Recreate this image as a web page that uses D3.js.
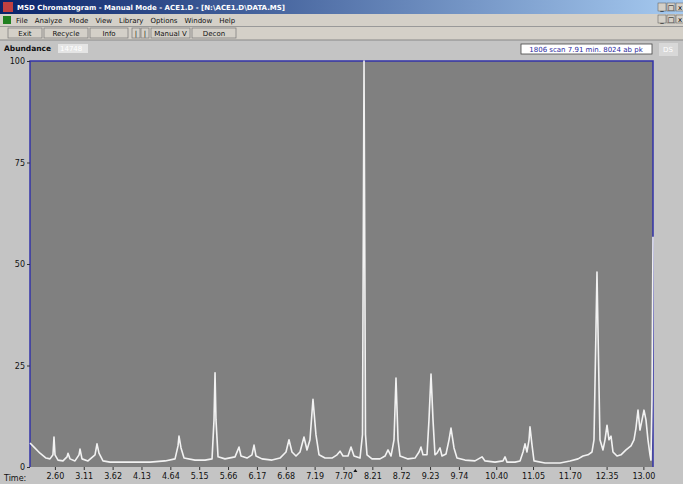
<!DOCTYPE html>
<head>
<meta charset="utf-8">
<style>
  body { margin:0; background:#c4c4c4; }
  text { font-family:"DejaVu Sans", sans-serif; }
  .axis text { font-size:8px; fill:#111; }
  .axis path { display:none; }
  .axis line { stroke:#333; }
  .trace { fill:none; stroke:#f2f2f2; stroke-width:1.6; stroke-linejoin:round; }
</style>
</head>
<body>
<script src="https://cdn.jsdelivr.net/npm/d3@7"></script>
<script>

var width = 683,
    height = 484;

// retention time (min) and abundance (%)
var times = [2.160, 2.231, 2.337, 2.443, 2.513, 2.566, 2.584, 2.602, 2.655, 2.743,
  2.814, 2.832, 2.867, 2.955, 3.026, 3.044, 3.079, 3.185, 3.309, 3.344,
  3.379, 3.450, 3.574, 3.927, 4.281, 4.546, 4.723, 4.776, 4.793, 4.829,
  4.882, 5.076, 5.253, 5.377, 5.412, 5.430, 5.447, 5.483, 5.606, 5.783,
  5.854, 5.889, 5.995, 6.083, 6.119, 6.154, 6.260, 6.437, 6.578, 6.684,
  6.737, 6.790, 6.861, 6.932, 7.002, 7.055, 7.108, 7.161, 7.214, 7.268,
  7.374, 7.497, 7.586, 7.639, 7.692, 7.780, 7.833, 7.886, 7.992, 8.036,
  8.063, 8.089, 8.116, 8.204, 8.346, 8.434, 8.487, 8.540, 8.593, 8.628,
  8.664, 8.699, 8.840, 8.964, 9.035, 9.070, 9.105, 9.176, 9.211, 9.247,
  9.282, 9.317, 9.353, 9.406, 9.441, 9.512, 9.565, 9.600, 9.653, 9.706,
  9.848, 10.024, 10.148, 10.201, 10.378, 10.519, 10.555, 10.590, 10.731, 10.820,
  10.873, 10.908, 10.943, 10.979, 10.996, 11.032, 11.067, 11.262, 11.527, 11.703,
  11.845, 11.933, 12.021, 12.092, 12.127, 12.162, 12.180, 12.198, 12.233, 12.286,
  12.322, 12.357, 12.392, 12.428, 12.463, 12.534, 12.604, 12.693, 12.781, 12.834,
  12.869, 12.905, 12.940, 12.976, 13.011, 13.046, 13.081, 13.117, 13.134, 13.152,
  13.170];

var abundance = [5.9, 4.9, 3.4, 2.2, 2.0, 3.0, 7.4, 3.0, 1.7, 1.5,
  2.5, 3.4, 2.0, 1.5, 3.0, 4.4, 2.0, 1.5, 3.0, 5.7,
  3.4, 1.5, 1.2, 1.2, 1.2, 1.5, 2.0, 5.2, 7.6, 4.7,
  2.2, 1.7, 1.7, 2.0, 11.6, 23.2, 11.6, 2.5, 2.0, 2.5,
  4.9, 2.7, 2.2, 3.0, 5.4, 2.7, 2.0, 1.7, 2.2, 3.7,
  6.7, 3.7, 2.7, 3.7, 7.4, 4.2, 6.7, 16.7, 7.9, 3.0,
  2.2, 2.2, 3.0, 3.9, 2.7, 2.7, 4.9, 2.7, 2.2, 8.0,
  100, 8.0, 3.0, 2.0, 2.0, 2.7, 4.2, 2.7, 6.7, 21.9,
  6.7, 2.7, 2.0, 2.2, 3.7, 4.9, 3.0, 3.0, 11.6, 22.9,
  11.6, 3.0, 3.4, 4.7, 2.7, 3.2, 6.7, 9.6, 4.7, 2.2,
  1.7, 1.5, 2.5, 1.5, 1.2, 1.5, 2.5, 1.2, 1.2, 1.5,
  3.7, 5.7, 3.7, 6.7, 9.9, 5.4, 1.5, 1.0, 1.0, 1.5,
  2.0, 2.7, 3.0, 3.7, 6.7, 33.7, 48.0, 33.7, 6.7, 4.2,
  6.7, 10.3, 6.7, 7.6, 3.7, 2.7, 3.0, 4.2, 5.2, 6.7,
  9.6, 14.0, 9.1, 11.6, 14.0, 11.6, 6.7, 3.0, 1.7, 16.5,
  56.7];

var timeTicks = [2.60, 3.11, 3.62, 4.13, 4.64, 5.15, 5.66, 6.17, 6.68, 7.19,
  7.70, 8.21, 8.72, 9.23, 9.74, 10.40, 11.05, 11.70, 12.35, 13.00];
var abundanceTicks = [0, 25, 50, 75, 100];

var menuItems = ["File", "Analyze", "Mode", "View", "Library", "Options", "Window", "Help"];
var buttons = ["Exit", "Recycle", "Info", "|", "|", "Manual V", "Decon"];
var buttonX = [8, 44, 90, 132, 141, 151, 192];
var buttonW = [34, 44, 38, 8, 8, 39, 44];

var plot = {left:30, top:61, right:653, bottom:467};

var svg = d3.select("body").append("svg")
    .attr("width", width)
    .attr("height", height);

var defs = svg.append("defs");
var grad = defs.append("linearGradient").attr("id", "titlebar");
grad.append("stop").attr("offset", "0%").attr("stop-color", "#0a246a");
grad.append("stop").attr("offset", "100%").attr("stop-color", "#a6caf0");

// window chrome
svg.append("rect").attr("width", width).attr("height", 14).style("fill", "url(#titlebar)");
svg.append("rect").attr("x", 3).attr("y", 2).attr("width", 10).attr("height", 10).style("fill", "#c04040");
svg.append("text").attr("x", 17).attr("y", 10).style("font-size", "7px").style("fill", "white")
    .style("font-weight", "bold")
    .text("MSD Chromatogram - Manual Mode - ACE1.D - [N:\\ACE1.D\\DATA.MS]");

svg.append("rect").attr("y", 14).attr("width", width).attr("height", 26).style("fill", "#d4d0c8");
svg.append("rect").attr("x", 3).attr("y", 16).attr("width", 8).attr("height", 8).style("fill", "#208020");
var mx = 16;
menuItems.forEach(function(m) {
  var t = svg.append("text").attr("x", mx).attr("y", 23).style("font-size", "7px").style("fill", "#111").text(m);
  mx += t.node().getComputedTextLength() + 7;
});

[3, 15].forEach(function(y) {
  [658, 667, 676].forEach(function(x, i) {
    svg.append("rect").attr("x", x).attr("y", y).attr("width", 8).attr("height", 8)
        .style("fill", "#d4d0c8").style("stroke", "#555").style("stroke-width", 0.5);
    svg.append("text").attr("x", x + 4).attr("y", y + 7).attr("text-anchor", "middle")
        .style("font-size", "7px").text(["_", "\u25A1", "x"][i]);
  });
});

svg.append("line").attr("x1", 0).attr("x2", width).attr("y1", 26.5).attr("y2", 26.5).style("stroke", "#999");
buttons.forEach(function(b, i) {
  svg.append("rect").attr("x", buttonX[i]).attr("y", 28).attr("width", buttonW[i]).attr("height", 10)
      .style("fill", "#d4d0c8").style("stroke", "#777").style("stroke-width", 0.7);
  svg.append("text").attr("x", buttonX[i] + buttonW[i] / 2).attr("y", 36).attr("text-anchor", "middle")
      .style("font-size", "7px").style("fill", "#111").text(b);
});
svg.append("line").attr("x1", 0).attr("x2", width).attr("y1", 40).attr("y2", 40).style("stroke", "#888");

svg.append("text").attr("x", 4).attr("y", 51).style("font-size", "7.5px").style("font-weight", "bold")
    .style("fill", "#111").text("Abundance");
svg.append("rect").attr("x", 58).attr("y", 44).attr("width", 30).attr("height", 9).style("fill", "#e4e4e4");
svg.append("text").attr("x", 60).attr("y", 51).style("font-size", "7px").style("fill", "#fff").text("14748");

svg.append("rect").attr("x", 521).attr("y", 44).attr("width", 131).attr("height", 10)
    .style("fill", "white").style("stroke", "#444").style("stroke-width", 0.8);
svg.append("text").attr("x", 586).attr("y", 52).attr("text-anchor", "middle").style("font-size", "7px")
    .style("fill", "#2a2aa0").text("1806 scan 7.91 min. 8024 ab pk");
svg.append("rect").attr("x", 659).attr("y", 43).attr("width", 19).attr("height", 13).style("fill", "#d8d8d8");
svg.append("text").attr("x", 668).attr("y", 52).attr("text-anchor", "middle").style("font-size", "7px")
    .style("fill", "#fff").text("DS");

// chart
var x = d3.scaleLinear().domain([2.16, 13.17]).range([plot.left, plot.right]);
var y = d3.scaleLinear().domain([0, 100]).range([plot.bottom, plot.top]);

svg.append("rect")
    .attr("x", plot.left).attr("y", plot.top)
    .attr("width", plot.right - plot.left).attr("height", plot.bottom - plot.top)
    .style("fill", "#808080");

svg.append("path").attr("d", "M" + plot.left + "," + plot.bottom + "V" + plot.top + "H" + plot.right + "V" + plot.bottom)
    .style("fill", "none").style("stroke", "#3333a8").style("stroke-width", 1.5);

var line = d3.line()
    .x(function(d, i) { return x(times[i]); })
    .y(function(d) { return y(d); });

svg.append("path").datum(abundance).attr("class", "trace").attr("d", line);

svg.append("g").attr("class", "axis")
    .attr("transform", "translate(" + plot.left + ",0)")
    .call(d3.axisLeft(y).tickValues(abundanceTicks).tickSize(3).tickPadding(2));

svg.append("g").attr("class", "axis")
    .attr("transform", "translate(0," + plot.bottom + ")")
    .call(d3.axisBottom(x).tickValues(timeTicks).tickFormat(d3.format(".2f")).tickSize(3).tickPadding(3));

svg.append("text").attr("x", 4).attr("y", 481).style("font-size", "8px").style("fill", "#111").text("Time:");
svg.append("path").attr("d", "M" + x(7.91) + "," + (plot.bottom + 2) + "l-2,3h4z").style("fill", "#111");

</script>
</body>
